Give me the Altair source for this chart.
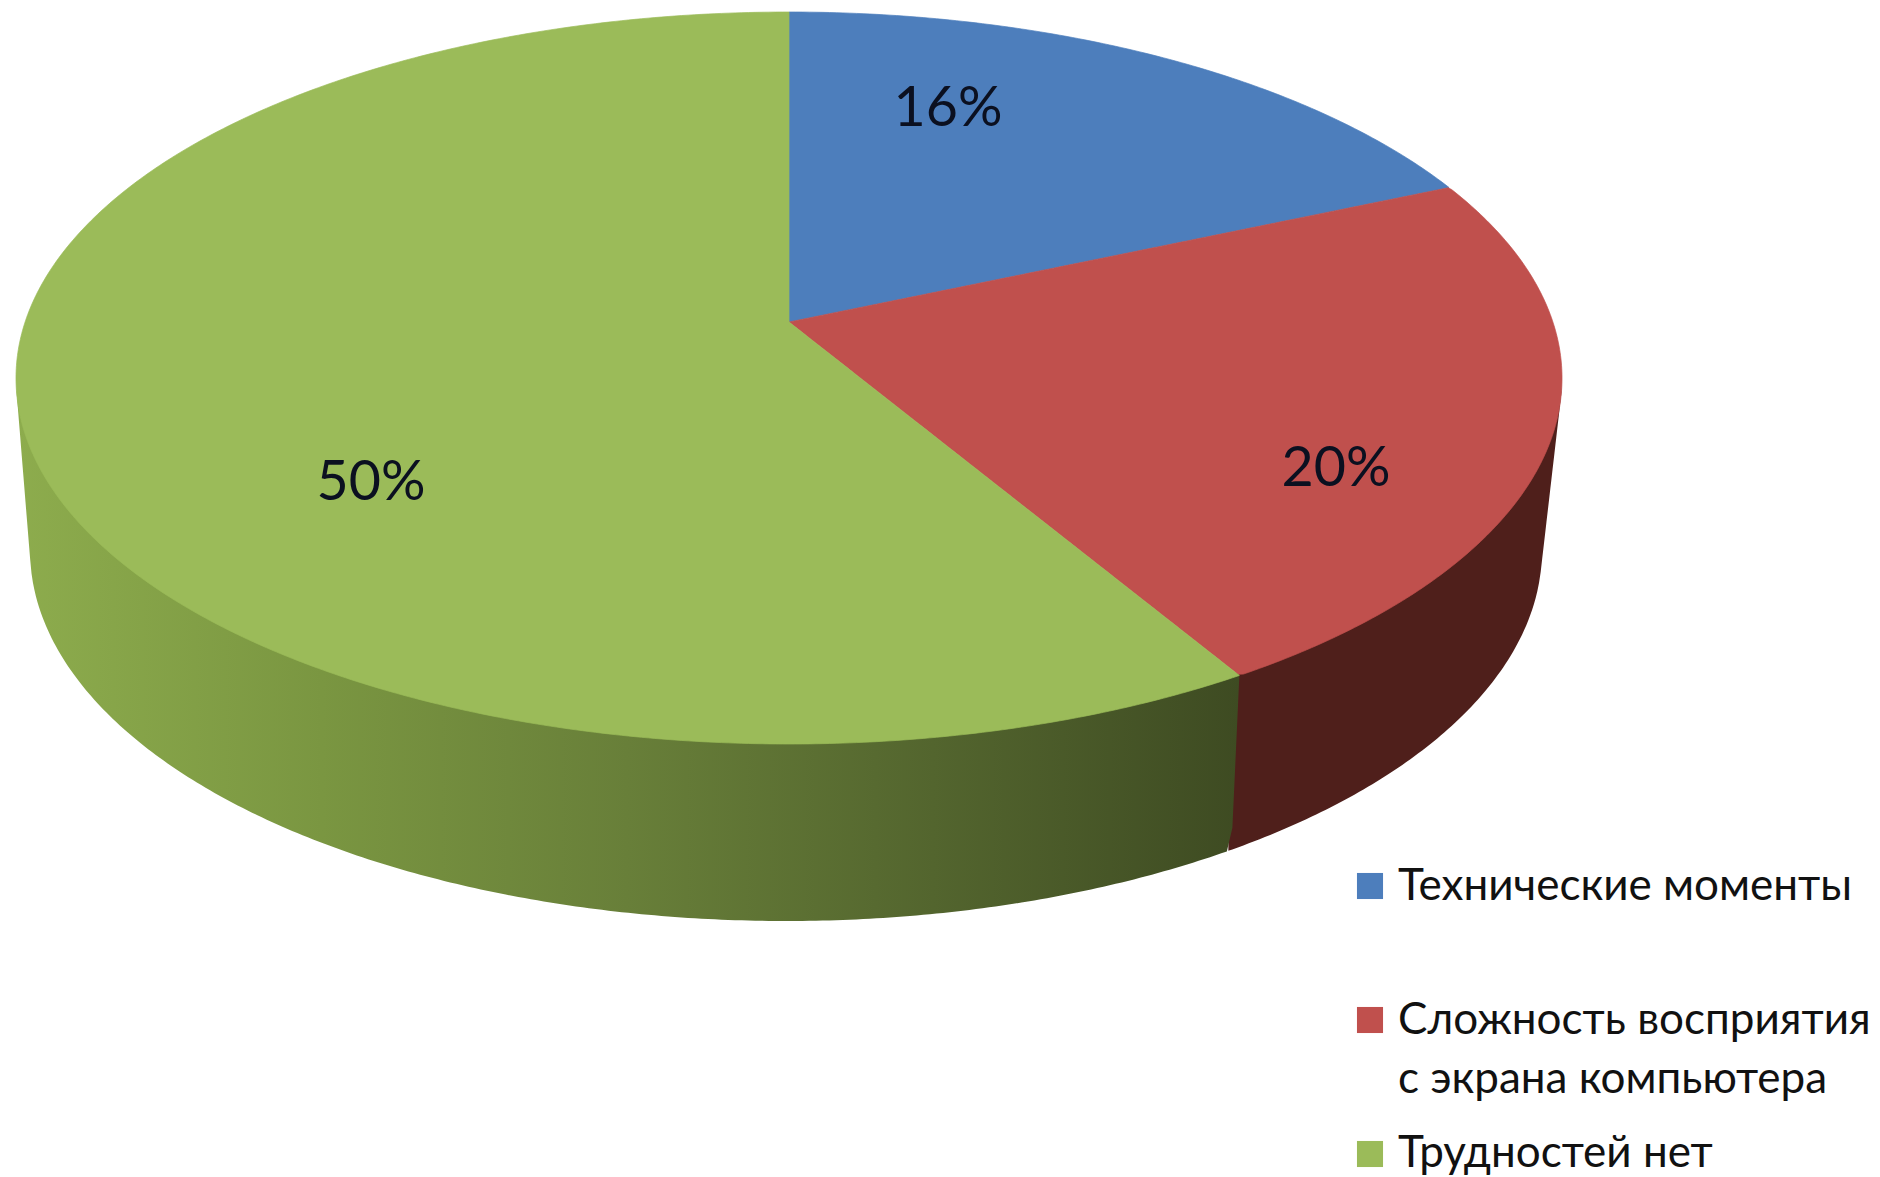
import numpy as np
import pandas as pd
import altair as alt

# ---- chart content ----
CATEGORIES = ["Технические моменты", "Сложность восприятия", "Трудностей нет"]
VALUES = [16, 20, 50]
VALUE_LABELS = ["16%", "20%", "50%"]
LEGEND_LINES = [["Технические моменты"], ["Сложность восприятия", "с экрана компьютера"], ["Трудностей нет"]]

# ---- styles ----
FACE_COLORS = ["#4D7EBC", "#C0504D", "#9BBB59"]
RED_WALL = "#4F1F1B"
GREEN_WALL_STOPS = [(0, "#8DAC4D"), (0.25, "#7A9641"), (0.5, "#687F39"), (0.75, "#53652E"), (1, "#3E4B22")]
FONT = "Lato"

# ---- layout (page pixels of the 1880x1177 picture) ----
W, H = 1864, 1169
OX, OY = 8, 8
CX, CY, RX, RY = 789, 378, 773, 366       # top ellipse
BX, BY, BRX, BRY = 786, 550, 756, 371     # bottom ellipse
APEX = 0.153                              # perspective shift of the pie centre
ANGLE_TWEAK_DEG = [-0.5, -1.5]            # small correction of the perspective model
WALL_LEAN = 8                             # the wall edge leans inward going down
LABEL_POS = [(948, 109), (1336, 469), (371, 483)]
LEG_SQ_X = 1370
LEG_SQ_Y = [886, 1020, 1154]
LEG_TXT_X = 1398
LEG_BASE = [[900], [1034, 1093], [1167]]
LABEL_SIZE = 55.5
LEG_SIZE = 44

# ---- geometry derived from the values ----
shares = np.array(VALUES, float) / sum(VALUES)
ends = np.cumsum(shares) * 2 * np.pi
ends[:2] += np.radians(ANGLE_TWEAK_DEG)


def proj(theta):
    u, v = np.sin(theta), np.cos(theta)
    d = 1 + APEX * v
    return u * np.sqrt(1 - APEX ** 2) / d, (v + APEX) / d


def rim_up(x):
    return CY - RY * np.sqrt(np.clip(1 - ((x - CX) / RX) ** 2, 0, 1))


def rim_lo(x):
    return CY + RY * np.sqrt(np.clip(1 - ((x - CX) / RX) ** 2, 0, 1))


apex_x, apex_y = CX, CY - RY * APEX
X1, Y1 = proj(ends[0])
X2, Y2 = proj(ends[1])
x1, y1 = CX + RX * X1, CY - RY * Y1
x2, y2 = CX + RX * X2, CY - RY * Y2


def chord(x, ex, ey):
    return apex_y + (x - apex_x) / (ex - apex_x) * (ey - apex_y)


grid = np.sort(CX + RX * np.cos(np.linspace(0, np.pi, 361)))


def span(a, b):
    return np.unique(np.concatenate([[a, b], grid[(grid > a) & (grid < b)]]))


rows = []


def add(cat, xs, ys, y2s):
    for a, b, c in zip(xs, ys, y2s):
        rows.append(dict(cat=cat, x=float(a), y=float(b), y2=float(c)))


# blue
xs = span(CX, x1)
add(CATEGORIES[0], xs, rim_up(xs), chord(xs, x1, y1))
# red
xs = span(CX, CX + RX)
add(CATEGORIES[1], xs,
    np.where(xs < x1, chord(xs, x1, y1), rim_up(xs)),
    np.where(xs < x2, chord(xs, x2, y2), rim_lo(xs)))
# green (vertical edge at the centre line)
xl = span(CX - RX, CX)
xr = span(CX + 0.01, x2)
xs = np.concatenate([xl, xr])
add(CATEGORIES[2], xs, np.concatenate([rim_up(xl), chord(xr, x2, y2)]), rim_lo(xs))
faces = pd.DataFrame(rows)

# outer silhouette of the side wall: lower hull of both ellipses
t = np.linspace(0, np.pi, 361)
pts = np.concatenate([
    np.c_[CX + RX * np.cos(t), CY + RY * np.sin(t)],
    np.c_[BX + BRX * np.cos(t), BY + BRY * np.sin(t)],
])
pts = pts[np.argsort(pts[:, 0])]
hull = []
for p in pts:
    while len(hull) >= 2:
        a, b = hull[-2], hull[-1]
        if (b[0] - a[0]) * (p[1] - a[1]) - (b[1] - a[1]) * (p[0] - a[0]) >= 0:
            hull.pop()
        else:
            break
    hull.append(p)
hull = np.array(hull)


def wall_lo(x):
    return np.interp(x, hull[:, 0], hull[:, 1])


bx2 = x2 - WALL_LEAN
by2 = float(wall_lo(bx2))
xs = span(bx2 - 3, CX + RX)
red_wall = pd.DataFrame(dict(x=xs, y=rim_lo(xs) - 4, y2=wall_lo(xs)))
xs = span(CX - RX, x2)
low = np.where(xs <= bx2, wall_lo(xs), by2 + (xs - bx2) / (x2 - bx2) * (y2 - by2))
green_wall = pd.DataFrame(dict(x=xs, y=rim_lo(xs) - 4, y2=low))

labels = pd.DataFrame(dict(text=VALUE_LABELS, x=[p[0] for p in LABEL_POS], y=[p[1] for p in LABEL_POS]))
squares = pd.DataFrame(dict(cat=CATEGORIES, x=LEG_SQ_X, y=LEG_SQ_Y))
legend_text = pd.DataFrame([
    dict(text=line, x=LEG_TXT_X, y=base)
    for lines, bases in zip(LEGEND_LINES, LEG_BASE)
    for line, base in zip(lines, bases)
])

# ---- scales ----
sx = alt.Scale(domain=[OX, OX + W], range=[0, W], nice=False, zero=False)
sy = alt.Scale(domain=[OY, OY + H], range=[0, H], nice=False, zero=False)
X = alt.X("x:Q", scale=sx, axis=None)
Y = alt.Y("y:Q", scale=sy, axis=None)
Y2 = alt.Y2("y2:Q")
col = alt.Color("cat:N", scale=alt.Scale(domain=CATEGORIES, range=FACE_COLORS), legend=None)

red_w = alt.Chart(red_wall).mark_area(orient="vertical", color=RED_WALL).encode(x=X, y=Y, y2=Y2)
green_w = alt.Chart(green_wall).mark_area(
    orient="vertical",
    color=alt.Gradient(gradient="linear", x1=0, y1=0, x2=1, y2=0,
                       stops=[alt.GradientStop(offset=o, color=c) for o, c in GREEN_WALL_STOPS]),
).encode(x=X, y=Y, y2=Y2)
top = alt.Chart(faces).mark_area(orient="vertical", strokeWidth=0.7).encode(
    x=X, y=Y, y2=Y2, color=col,
    stroke=alt.Stroke("cat:N", scale=alt.Scale(domain=CATEGORIES, range=FACE_COLORS), legend=None),
)
value_text = alt.Chart(labels).mark_text(font=FONT, fontSize=LABEL_SIZE, color="#0b1020").encode(x=X, y=Y, text="text:N")
leg_sq = alt.Chart(squares).mark_square(size=680, opacity=1).encode(x=X, y=Y, color=col)
leg_txt = alt.Chart(legend_text).mark_text(
    font=FONT, fontSize=LEG_SIZE, color="#111111", align="left", baseline="alphabetic"
).encode(x=X, y=Y, text="text:N")

chart = alt.layer(red_w, green_w, top, value_text, leg_sq, leg_txt).properties(
    width=W, height=H, padding=0, autosize=alt.AutoSizeParams(type="none"), background="white",
).configure_view(stroke=None)

chart.save("out.html", embed_options={"renderer": "svg", "actions": False})
